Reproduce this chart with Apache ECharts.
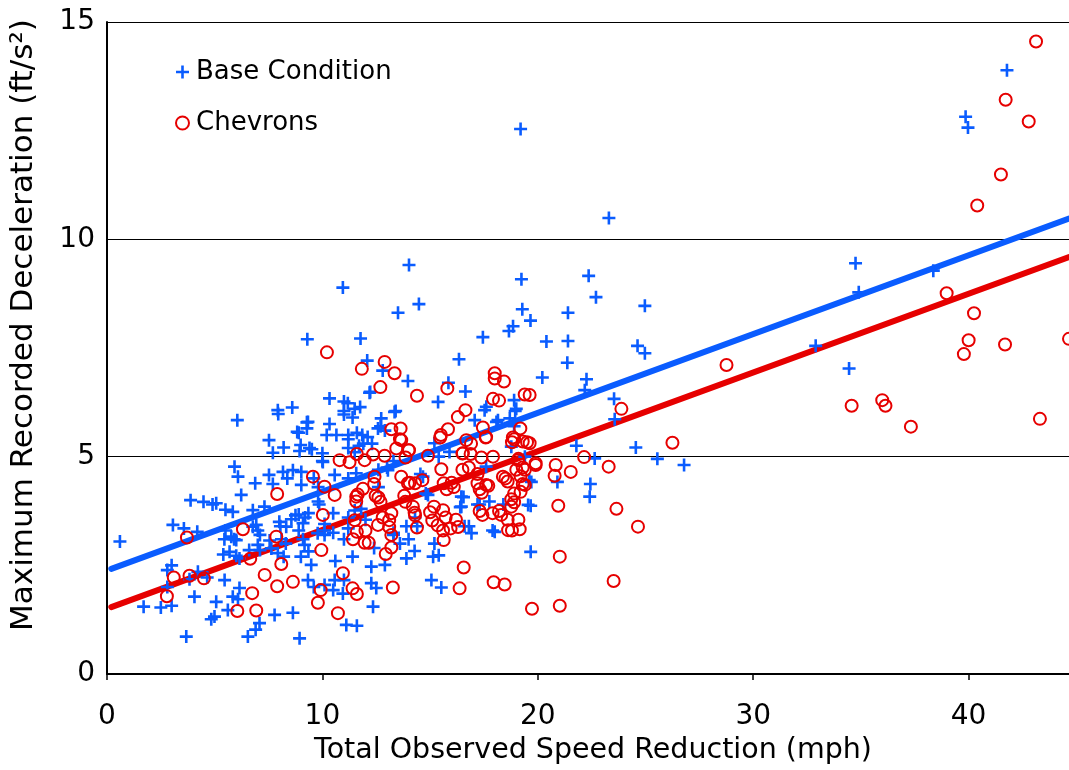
<!DOCTYPE html>
<html>
<head>
<meta charset="utf-8">
<script src="https://cdn.jsdelivr.net/npm/echarts@6/dist/echarts.min.js"></script>
<style>html,body{margin:0;padding:0;background:#fff}#chart{width:1069px;height:770px}</style>
</head>
<body>
<div id="chart"></div>
<script>
// Base Condition observations [speed reduction mph, max deceleration ft/s2]
const baseCondition = [
[0.6,3.05],[1.7,1.55],[2.5,1.53],[3.0,1.57],[2.8,2.0],[2.8,2.39],[3.0,2.5],[3.06,3.43],[3.57,3.35],[4.19,3.27],[3.88,4.0],[4.48,3.96],[5.07,3.93],[3.68,0.86],[4.06,1.78],[4.22,2.35],[4.65,2.22],[3.83,2.18],[4.99,1.32],[4.84,1.26],[5.07,1.66],[4.9,3.9],
[5.46,2.16],[5.61,1.47],[5.84,1.78],[6.15,1.98],[6.08,1.72],[6.54,0.86],[6.9,1.02],[7.08,1.17],[7.78,1.36],[8.63,1.41],[8.94,0.82],[5.69,2.81],[6.15,2.66],[7.0,2.97],[7.1,2.85],[7.63,2.89],[7.93,2.78],[9.17,2.97],[9.35,2.82],[9.48,2.51],[9.33,2.16],[9.6,2.0],[5.4,2.75],[6.0,2.72],[6.6,2.85],[8.2,2.7],[9.0,2.7],
[5.77,3.16],[6.0,3.08],[6.93,3.43],[7.0,3.3],[8.32,3.39],[8.56,3.56],[9.1,3.47],[8.9,3.67],[9.35,3.7],[9.8,3.97],[9.78,3.24],[5.84,3.73],[6.77,3.77],[7.31,3.85],[6.23,4.12],[5.5,3.78],[5.5,3.3],[5.45,3.1],[5.9,3.1],[7.1,3.2],[7.55,3.07],[8.1,3.1],[8.3,3.0],[9.1,3.1],[6.77,3.39],[8.0,3.5],[8.05,3.4],[8.75,3.65],[9.2,3.6],[8.9,3.3],[9.85,3.9],
[6.05,5.84],[7.93,6.07],[7.95,5.98],[8.6,6.13],[9.28,5.79],[9.28,5.65],[8.83,5.57],[7.52,5.38],[8.2,5.21],[7.7,5.09],[8.99,5.27],[8.94,5.13],[9.51,5.17],[10.02,4.88],[5.92,4.77],[6.08,4.54],[6.88,4.39],[7.52,4.58],[7.7,4.37],[8.17,4.65],[8.37,4.5],[8.63,4.69],[9.02,4.65],[9.02,4.35],[9.4,5.2],[9.33,5.8],[8.9,5.55],[9.6,4.5],[9.8,4.3],
[9.3,7.7],[10.95,8.89],[11.77,7.72],[13.51,8.31],[14.48,8.51],[14.02,9.41],[17.45,7.75],[18.66,7.89],[18.85,8.0],[19.24,9.08],[19.28,8.39],[19.66,8.13],[21.4,8.31],[20.4,7.65],[19.2,12.54],[23.3,10.49],[22.36,9.16],[22.7,8.67],[24.97,8.47],[21.4,7.66],[24.63,7.55],[24.97,7.38],[21.37,7.16],[20.21,6.82],[22.26,6.78],[22.18,6.53],[23.54,6.33],[23.57,5.86],[21.79,5.25],[24.55,5.21],[22.64,4.96],[25.55,4.95],[26.79,4.81],[19.7,4.42],[20.91,4.42],[22.44,4.37],[22.41,4.08],[19.67,3.87],[19.67,2.81],
[32.9,7.55],[34.45,7.03],[34.75,9.45],[34.9,8.78],[38.36,9.28],[39.86,12.82],[39.97,12.57],[41.78,13.89],
[10.33,6.34],[11.0,6.27],[11.75,6.14],[11.0,6.05],[11.0,5.97],[11.5,6.1],[13.4,6.05],[12.73,5.88],[12.58,5.65],[12.9,5.6],[10.33,5.75],[10.2,5.5],[10.65,5.5],[11.2,5.5],[11.6,5.55],[12.1,5.45],[12.3,5.3],[11.7,5.25],[10.0,5.08],[10.0,4.9],[10.57,4.58],[11.57,4.62],[13.04,4.69],[14.55,4.6],[14.8,4.15],
[12.08,7.21],[12.8,6.98],[13.97,6.74],[12.22,6.49],[11.18,6.23],[12.19,6.47],[11.4,5.9],[11.2,5.4],[11.85,5.5],[11.2,5.2],[11.5,5.1],[11.9,5.3],[11.2,4.5],[11.2,3.6],[10.1,3.45],[10.1,3.3],[10.5,3.25],[11.2,3.35],[10.1,3.2],[11.0,3.1],[10.5,3.7],[12.0,3.55],[11.8,3.8],[13.3,3.2],[13.9,3.4],[10.57,2.16],[11.0,2.16],[10.5,1.93],[10.95,1.85],[10.1,2.05],[12.27,2.47],[12.9,2.51],[12.27,2.09],[12.5,1.98],[12.35,1.55],[11.11,1.13],[11.6,1.11],[14.28,2.83],[13.9,2.66],
[15.37,6.26],[13.35,6.03],[12.7,5.7],[13.3,4.9],[13.0,4.75],[12.6,4.7],[14.67,4.54],[12.6,4.3],[14.9,4.12],[11.5,3.76],[14.3,3.6],[14.4,3.4],[13.3,3.25],[14.0,3.1],[13.6,3.0],[15.2,3.0],[12.4,2.9],[11.4,2.7],[10.6,2.6],
[16.64,6.5],[15.85,6.7],[16.34,7.24],[18.9,6.3],[17.53,6.07],[18.95,6.05],[17.07,5.84],[18.15,5.84],[18.7,5.88],[17.6,4.77],[16.6,3.4],[16.4,3.84],[17.2,3.9],[17.75,3.97],[16.55,4.07],[16.92,3.24],[18.0,3.27],[19.55,3.89],[15.14,2.7],[15.4,2.73],[15.06,2.16],[15.52,1.99],
[17.61,6.15],[19.0,6.1],[18.08,5.8],[18.9,5.7],[18.77,5.23],[19.4,5.0],[15.2,5.31],[15.9,5.11],[15.4,5.0],[19.6,4.46],[16.45,4.08],[16.45,3.85],[17.3,3.9],[18.4,3.9],[16.8,3.4],[17.9,3.3]
];
// Chevrons observations
const chevrons = [
[2.78,1.79],[3.1,2.22],[3.83,2.26],[4.5,2.2],[3.71,3.14],[6.31,3.33],[7.86,3.16],[6.65,2.65],[8.09,2.53],[7.32,2.28],[7.9,2.02],[8.63,2.12],[6.74,1.86],[6.05,1.45],[6.93,1.46],[9.79,1.64],[9.92,1.93],[9.95,2.85],[10.02,3.66],[7.9,4.14],[9.56,4.54],[10.1,4.31],[10.21,7.4],
[11.83,7.02],[12.89,7.18],[13.35,6.92],[12.69,6.6],[14.39,6.4],[15.8,6.57],[16.64,6.07],[16.29,5.91],[15.83,5.63],[15.47,5.44],[15.52,4.71],[14.9,5.02],[13.2,5.63],[13.63,5.65],[13.66,5.38],[13.43,5.19],[14.02,5.15],[13.86,4.98],[12.89,5.02],[12.35,5.05],[11.96,4.92],[11.26,4.87],[10.8,4.92],[10.57,4.12],[11.88,4.26],[12.42,4.54],[12.4,4.37],[11.64,4.13],[12.47,4.1],[13.66,4.54],[13.97,4.39],[14.3,4.39],[14.64,4.46],[13.8,4.1],[15.63,4.39],[15.77,4.25],
[18.0,6.92],[18.0,6.8],[18.43,6.73],[17.92,6.33],[18.2,6.29],[19.39,6.43],[17.45,5.67],[17.58,5.44],[19.19,5.65],[18.84,5.44],[18.8,5.33],[19.5,5.33],[16.68,5.38],[16.9,5.3],[16.52,5.08],[16.88,5.06],[17.38,4.98],[17.92,5.0],[19.08,4.92],[19.9,4.85],[16.5,4.7],[16.8,4.75],[17.2,4.6],[18.38,4.54],[18.6,4.43],[19.3,4.75],[19.2,4.55],[19.3,4.37],[19.2,4.19],[17.2,4.39],[17.4,4.17],[17.7,4.33],
[11.57,4.08],[11.57,3.97],[12.6,4.06],[12.7,3.96],[13.85,3.96],[11.5,3.54],[13.1,3.54],[12.58,3.43],[13.1,3.38],[14.28,3.71],[14.3,3.65],[14.39,3.37],[15.18,3.85],[15.1,3.53],[15.35,3.42],[15.72,3.6],[15.95,3.35],[16.3,3.38],[15.63,3.08],[11.42,3.1],[11.6,3.27],[12.0,3.3],[11.96,3.02],[12.15,3.02],[13.2,2.91],[12.94,2.76],[17.43,3.66],[17.9,3.7],[18.3,3.66],[18.62,3.31],[18.8,3.3],[19.16,3.33],[18.77,3.85],[18.77,4.02],[16.56,2.45],[17.95,2.11],[18.46,2.06],[16.37,1.97],[13.27,1.99],[10.95,2.32],[11.4,1.97],[11.6,1.84],[10.72,1.4],[19.73,1.5],
[14.2,3.85],[15.0,3.72],[15.6,3.77],[13.2,3.7],[12.8,3.6],[16.2,3.55],[17.3,3.75],[18.2,3.75],[18.6,3.55],[19.1,3.55],[15.6,3.3],[13.2,3.2],[18.9,4.15],[18.9,3.95],[14.05,4.4],[16.0,4.4],[16.1,4.3],[17.6,4.35],[17.3,4.25],[18.5,4.5],[19.4,4.35],[16.5,5.07],[19.1,4.95],[19.0,4.7],[19.4,4.7],[13.6,5.4],[15.5,5.5],[17.6,5.45],[18.9,5.4],[19.3,5.35],[14.0,5.15],[11.6,5.06],
[19.62,6.42],[19.62,5.31],[20.95,3.87],[21.02,2.7],[21.02,1.57],[23.65,3.8],[24.65,3.39],[23.52,2.14],[22.15,4.99],[19.9,4.81],[20.83,4.81],[20.78,4.56],[21.53,4.65],[23.29,4.77],[23.88,6.1],[26.25,5.32],[28.76,7.11],
[34.57,6.17],[35.99,6.3],[36.14,6.17],[37.32,5.69],[38.98,8.76],[40.25,8.3],[40.0,7.68],[39.78,7.36],[41.69,7.58],[44.66,7.71],[43.31,5.87],[40.4,10.78],[41.5,11.49],[42.79,12.71],[41.72,13.21],[43.13,14.55]
];
// Linear trend lines (end points)
const baseTrend = [[0.2,2.42],[44.66,10.48]];
const chevronTrend = [[0.2,1.54],[44.66,9.59]];
const seriesNames = ['Base Condition','Chevrons'];
const xAxisTitle = 'Total Observed Speed Reduction (mph)';
const yAxisTitle = 'Maximum Recorded Deceleration (ft/s²)';

const BLUE = '#0a5cff';
const RED = '#e60000';
const FONT = 'DejaVu Sans';
const plusPath = 'path://M5.2,0H7.8V5.2H13V7.8H7.8V13H5.2V7.8H0V5.2H5.2Z';

const chart = echarts.init(document.getElementById('chart'), null, {renderer:'canvas'});
chart.setOption({
  animation:false,
  backgroundColor:'#ffffff',
  textStyle:{fontFamily:FONT},
  grid:{left:107,right:0,top:22,bottom:96,containLabel:false,outerBoundsMode:'none'},
  legend:{
    orient:'vertical', left:170, top:54, itemWidth:13, itemHeight:13, itemGap:25,
    textStyle:{fontSize:26,color:'#000',fontFamily:FONT,padding:[0,0,0,2]},
    data:[{name:seriesNames[0],icon:plusPath},{name:seriesNames[1],icon:'circle'}]
  },
  xAxis:{
    type:'value',min:0,max:44.66,interval:10,
    axisLine:{show:true,lineStyle:{color:'#000',width:2}},
    axisTick:{show:true,length:6,lineStyle:{color:'#000',width:1.5}},
    axisLabel:{fontSize:28,color:'#000',margin:29,showMaxLabel:false,fontFamily:FONT},
    splitLine:{show:false},
    name:xAxisTitle,nameLocation:'middle',nameGap:61,
    nameTextStyle:{fontSize:28.5,color:'#000',fontFamily:FONT,padding:[0,0,0,10]}
  },
  yAxis:{
    type:'value',min:0,max:15,interval:5,
    axisLine:{show:true,lineStyle:{color:'#000',width:2}},
    axisTick:{show:false},
    axisLabel:{fontSize:28,color:'#000',margin:12,fontFamily:FONT},
    splitLine:{show:true,lineStyle:{color:'#000',width:1.2}},
    name:yAxisTitle,nameLocation:'middle',nameGap:68,
    nameTextStyle:{fontSize:31,color:'#000',fontFamily:FONT,padding:[0,0,0,46]}
  },
  series:[
    {name:'Base trend',type:'line',data:baseTrend,symbol:'none',silent:true,z:1,
     lineStyle:{color:BLUE,width:6,cap:'round'}},
    {name:'Chevron trend',type:'line',data:chevronTrend,symbol:'none',silent:true,z:1,
     lineStyle:{color:RED,width:6,cap:'round'}},
    {name:seriesNames[0],type:'scatter',data:baseCondition,symbol:plusPath,symbolSize:13,z:2,
     itemStyle:{color:BLUE,opacity:1}},
    {name:seriesNames[1],type:'scatter',data:chevrons,symbol:'circle',symbolSize:12,z:3,
     itemStyle:{color:'rgba(255,255,255,0)',borderColor:RED,borderWidth:2,opacity:1}}
  ]
});
</script>
</body>
</html>
